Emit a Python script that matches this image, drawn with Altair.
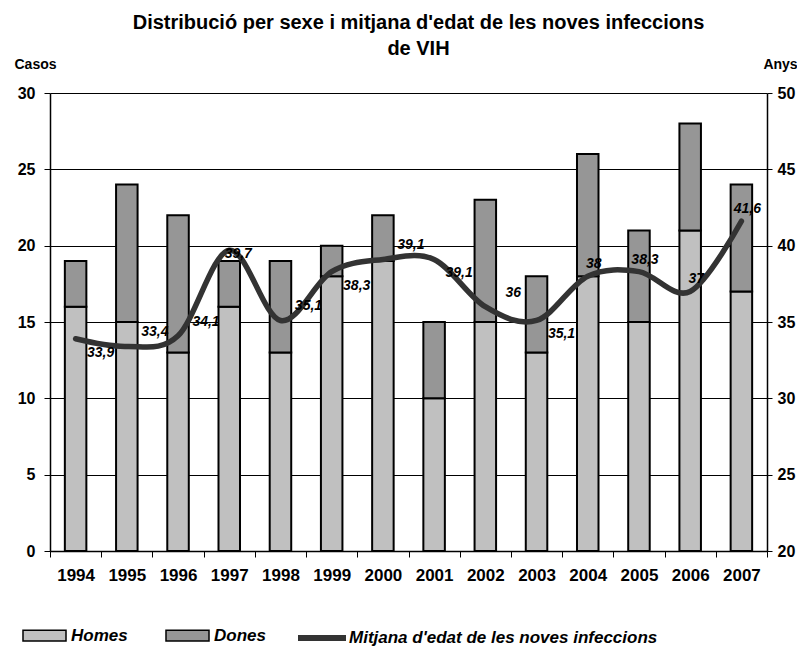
import altair as alt
import pandas as pd

FONT = "Liberation Sans"

years = ["1994", "1995", "1996", "1997", "1998", "1999", "2000",
         "2001", "2002", "2003", "2004", "2005", "2006", "2007"]
homes = [16, 15, 13, 16, 13, 18, 19, 10, 15, 13, 18, 15, 21, 17]
dones = [3, 9, 9, 3, 6, 2, 3, 5, 8, 5, 8, 6, 7, 7]
age = [33.9, 33.4, 34.1, 39.7, 35.1, 38.3, 39.1, 39.1, 36, 35.1, 38, 38.3, 37, 41.6]
# where each age label sits relative to its point
label_pos = ["lr", "ur", "ur", "on", "ur", "lr", "ur", "lr", "ur", "lr", "up", "up", "up", "up"]

LINE_NAME = "Mitjana d'edat de les noves infeccions"
title_lines = ["Distribució per sexe i mitjana d'edat de les noves infeccions", "de VIH"]

df = pd.DataFrame({"year": years, "homes": homes, "dones": dones, "age": age, "pos": label_pos})
df["total"] = df["homes"] + df["dones"]
df["label"] = [f"{v:g}".replace(".", ",") for v in age]

x_enc = alt.X(
    "year:O", title=None,
    scale=alt.Scale(paddingInner=0, paddingOuter=0),
    axis=alt.Axis(labelAngle=0, labelFontSize=17, labelFontWeight="bold", labelColor="black",
                  labelFont=FONT, tickBand="extent", tickSize=6, tickColor="black",
                  domainColor="black", domainWidth=1.5, labelPadding=10, grid=False),
)

left_axis = alt.Axis(values=[0, 5, 10, 15, 20, 25, 30], title="Casos", titleAngle=0,
                     titleAlign="center", titleBaseline="alphabetic", titleX=-15, titleY=-25,
                     titleFontSize=14, titleFontWeight="bold", titleColor="black", titleFont=FONT,
                     labelFontSize=16, labelFontWeight="bold", labelColor="black", labelFont=FONT,
                     tickColor="black", tickSize=6, domainColor="black", domainWidth=1.5,
                     labelPadding=9, grid=True, gridColor="#000000", gridWidth=1)
right_axis = alt.Axis(orient="right", values=[20, 25, 30, 35, 40, 45, 50], title="Anys", titleAngle=0,
                      titleAlign="center", titleBaseline="alphabetic", titleX=13, titleY=-25,
                      titleFontSize=14, titleFontWeight="bold", titleColor="black", titleFont=FONT,
                      labelFontSize=16, labelFontWeight="bold", labelColor="black", labelFont=FONT,
                      tickColor="black", tickSize=5, domainColor="black", domainWidth=1.5,
                      labelPadding=5, grid=False)

case_scale = alt.Scale(domain=[0, 30], nice=False)
age_scale = alt.Scale(domain=[20, 50], nice=False)

color_scale = alt.Scale(domain=["Homes", "Dones"], range=["#c0c0c0", "#969696"])
bar_legend = alt.Legend(title=None, orient="none", legendX=-28, legendY=520, direction="horizontal",
                        symbolType="M-1,-0.25H1V0.25H-1Z", symbolSize=1850,
                        symbolStrokeColor="black", symbolStrokeWidth=1.5, symbolOpacity=1,
                        labelFontSize=17, labelFontWeight="bold", labelFontStyle="italic",
                        labelColor="black", labelFont=FONT, columnPadding=34, labelOffset=4,
                        padding=0)
color_enc = alt.Color("sex:N", scale=color_scale, legend=bar_legend)

bar_width = alt.RelativeBandSize(0.42)

homes_bar = alt.Chart(df).transform_calculate(sex='"Homes"').mark_bar(
    stroke="black", strokeWidth=2, width=bar_width
).encode(
    x=x_enc,
    y=alt.Y("homes:Q", scale=case_scale, axis=left_axis),
    color=color_enc,
)
dones_bar = alt.Chart(df).transform_calculate(sex='"Dones"').mark_bar(
    stroke="black", strokeWidth=2, width=bar_width
).encode(
    x=x_enc,
    y=alt.Y("total:Q", scale=case_scale, axis=left_axis),
    y2="homes:Q",
    color=color_enc,
)
bars = alt.layer(homes_bar, dones_bar)

line_legend = alt.Legend(title=None, orient="none", legendX=245, legendY=518,
                         symbolType="stroke", symbolSize=2304, symbolStrokeWidth=6,
                         labelFontSize=17, labelFontWeight="bold", labelFontStyle="italic",
                         labelColor="black", labelFont=FONT, labelOffset=0, padding=0,
                         labelLimit=500)
y_age = alt.Y("age:Q", scale=age_scale, axis=right_axis)

line = alt.Chart(df).transform_calculate(serie='"' + LINE_NAME + '"').mark_line(
    strokeWidth=5.5, interpolate="cardinal", strokeCap="round"
).encode(
    x=x_enc,
    y=y_age,
    stroke=alt.Stroke("serie:N", scale=alt.Scale(domain=[LINE_NAME], range=["#333333"]),
                      legend=line_legend),
)

offsets = {"ur": (28, -14), "lr": (25, 14), "on": (9, 4), "up": (6, -12)}
texts = []
for key, (ddx, ddy) in offsets.items():
    texts.append(
        alt.Chart(df).transform_filter(alt.datum.pos == key).mark_text(
            dx=ddx, dy=ddy, fontSize=14, fontWeight="bold", fontStyle="italic",
            font=FONT, color="black", align="center", baseline="middle"
        ).encode(x=x_enc, y=y_age, text="label:N")
    )

line_layer = alt.layer(line, *texts)

chart = alt.layer(bars, line_layer).resolve_scale(y="independent").properties(
    width=717, height=458,
    padding={"left": 42, "top": 85, "right": 30, "bottom": 95},
    autosize=alt.AutoSizeParams(type="none"),
    title=alt.TitleParams(text=title_lines, fontSize=20, fontWeight="bold", font=FONT,
                          color="black", anchor="middle", frame="group", dx=10, offset=-2,
                          lineHeight=26),
).configure(font=FONT).configure_view(strokeWidth=0)

chart.save("out.html", embed_options={"renderer": "svg", "actions": False})
